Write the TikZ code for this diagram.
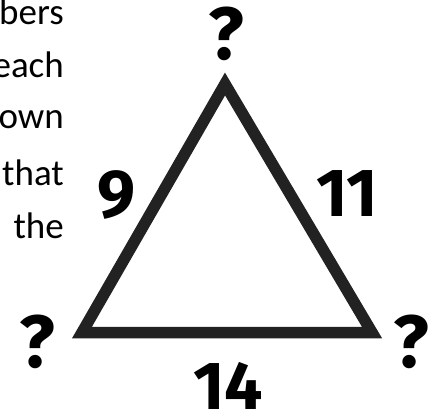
\documentclass[tikz,border=0pt]{standalone}
\usepackage{fontspec}
\setmainfont{Carlito}
\newfontfamily\numfont{Fira Sans}
\definecolor{tri}{HTML}{222222}
\tikzset{
  frag/.style={anchor=base east, inner sep=0pt, font=\fontsize{37}{37}\selectfont, text=black},
  lbl/.style={anchor=center, inner sep=0pt, font=\numfont\bfseries\fontsize{68}{68}\selectfont, text=black},
  qm/.style={lbl, font=\numfont\bfseries\fontsize{74}{74}\selectfont},
  edge/.style={line width=11.5pt, line join=miter, draw=tri}
}
\begin{document}
\begin{tikzpicture}[x=1pt,y=-1pt]
\useasboundingbox (0,0) rectangle (433,412);
\coordinate (A) at (225,84);
\coordinate (B) at (82,332.5);
\coordinate (C) at (372,332.5);
\draw[edge] (A) -- (B) -- (C) -- cycle;
\node[frag] (t1) at (64,25) {bers};
\node[frag] (t2) at (64,77) {each};
\node[frag] (t3) at (64,128) {own};
\node[frag] (t4) at (64,185) {that};
\node[frag] (t5) at (64,238) {the};
\node[qm] (qa) at (226,34) {?};
\node[qm] (qb) at (37,342) {?};
\node[qm] (qc) at (411,342) {?};
\node[lbl] (n9) at (117,195) {9};
\node[lbl] (n11) at (347,194) {11};
\node[lbl] (n14) at (228,386) {14};
\end{tikzpicture}
\end{document}
